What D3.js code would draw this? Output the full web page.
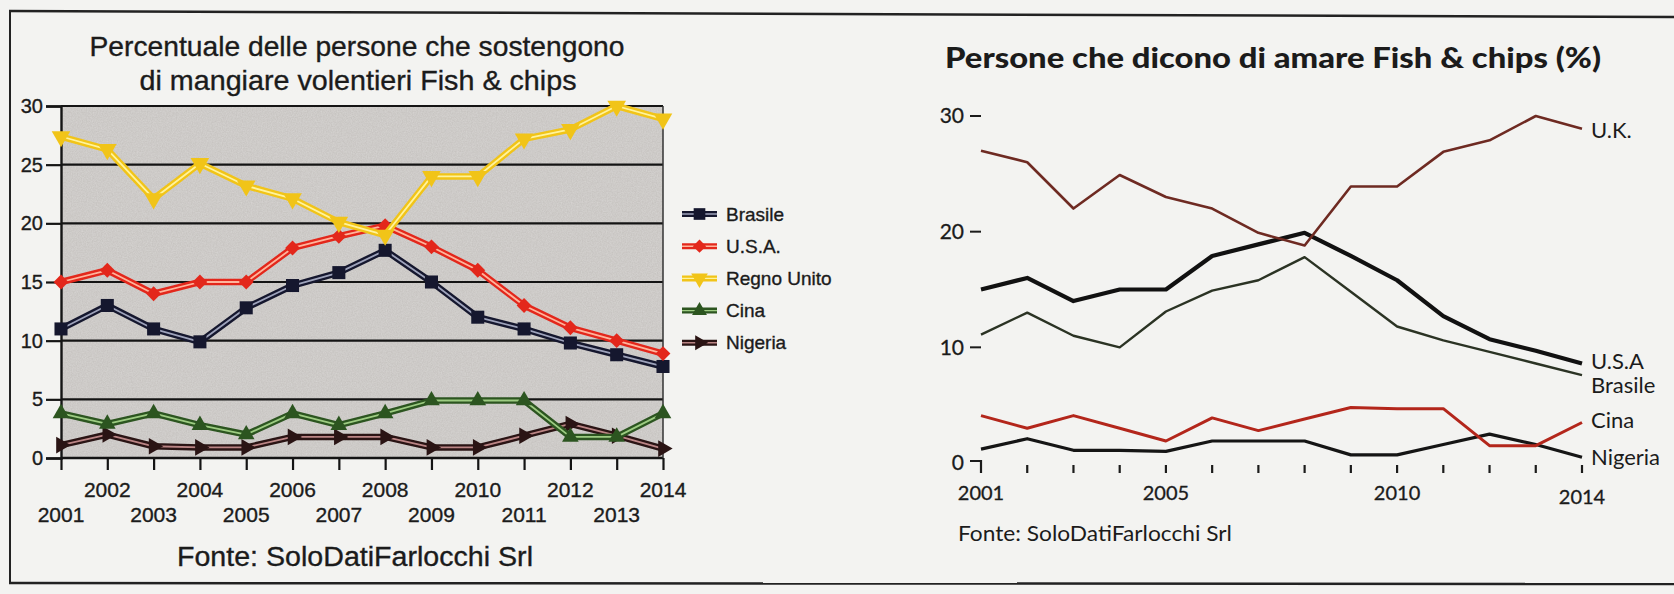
<!DOCTYPE html>
<html>
<head>
<meta charset="utf-8">
<script src="https://cdn.jsdelivr.net/npm/d3@7"></script>
<style>
    html, body { margin: 0; padding: 0; background: #f3f3f1; }
    svg { display: block; }
</style>
</head>
<body>
<svg id="chart" width="1674" height="594"></svg>
<script>
// ---- data ----
const years = [2001, 2002, 2003, 2004, 2005, 2006, 2007, 2008, 2009, 2010, 2011, 2012, 2013, 2014];

// left chart (Excel style)
const leftBrasile = [11.0, 13.0, 11.0, 9.9, 12.8, 14.7, 15.8, 17.7, 15.0, 12.0, 11.0, 9.8, 8.8, 7.8];
const leftUsa = [15.0, 16.0, 14.0, 15.0, 15.0, 17.9, 18.9, 19.8, 18.0, 16.0, 13.0, 11.1, 10.0, 8.9];
const leftRegnoUnito = [27.4, 26.3, 22.1, 25.1, 23.2, 22.1, 20.1, 19.0, 24.0, 24.0, 27.2, 28.0, 30.0, 28.9];
const leftCina = [3.8, 2.9, 3.8, 2.8, 2.0, 3.8, 2.8, 3.8, 4.9, 4.9, 4.9, 1.8, 1.8, 3.8];
const leftNigeria = [1.1, 2.0, 1.0, 0.9, 0.9, 1.8, 1.8, 1.8, 0.9, 0.9, 1.9, 2.9, 1.9, 0.8];
const leftNames = ["Brasile", "U.S.A.", "Regno Unito", "Cina", "Nigeria"];
const leftYTicks = [0, 5, 10, 15, 20, 25, 30];

// right chart (redesign)
const rightUk = [27.0, 26.0, 22.0, 24.9, 23.0, 22.0, 19.9, 18.8, 23.9, 23.9, 26.9, 27.9, 30.0, 28.9];
const rightUsa = [15.0, 16.0, 14.0, 15.0, 15.0, 17.9, 18.9, 19.9, 17.9, 15.8, 12.7, 10.7, 9.7, 8.6];
const rightBrasile = [11.1, 13.0, 11.0, 10.0, 13.1, 14.9, 15.8, 17.8, 14.8, 11.8, 10.6, 9.6, 8.6, 7.6];
const rightCina = [4.1, 3.0, 4.1, 3.0, 1.9, 3.9, 2.8, 3.8, 4.8, 4.7, 4.7, 1.5, 1.5, 3.5];
const rightNigeria = [1.2, 2.1, 1.1, 1.1, 1.0, 1.9, 1.9, 1.9, 0.7, 0.7, 1.6, 2.5, 1.6, 0.5];
const rightNames = ["U.K.", "U.S.A", "Brasile", "Cina", "Nigeria"];
const rightYTicks = [0, 10, 20, 30];
const rightXLabels = [2001, 2005, 2010, 2014];

const svg = d3.select("#chart");
const ink = "#1b1b1b";

// photo frame
svg.append("line").attr("x1", 9).attr("y1", 11).attr("x2", 1674).attr("y2", 17)
    .attr("stroke", "#222").attr("stroke-width", 2.5);
svg.append("line").attr("x1", 9).attr("y1", 583).attr("x2", 1674).attr("y2", 584)
    .attr("stroke", "#222").attr("stroke-width", 2.5);
svg.append("line").attr("x1", 10).attr("y1", 11).attr("x2", 10).attr("y2", 584)
    .attr("stroke", "#222").attr("stroke-width", 2);

// grain filter for the grey plot area
const defs = svg.append("defs");
const grain = defs.append("filter").attr("id", "grain").attr("x", 0).attr("y", 0).attr("width", 1).attr("height", 1);
grain.append("feTurbulence").attr("type", "fractalNoise").attr("baseFrequency", 0.8).attr("numOctaves", 2).attr("result", "n");
grain.append("feColorMatrix").attr("in", "n").attr("type", "matrix")
    .attr("values", "0 0 0 0 0.78  0 0 0 0 0.77  0 0 0 0 0.76  0 0 0 -1.1 0.9").attr("result", "g");
grain.append("feComposite").attr("in", "g").attr("in2", "SourceGraphic").attr("operator", "in");

/////////////
// LEFT    //
/////////////
// light stroke on the text mimics the heavier printed glyphs
const left = svg.append("g").attr("font-family", "'Liberation Sans', Arial, sans-serif")
    .attr("fill", ink).attr("stroke", ink).attr("stroke-width", 0.35);

const xL = d3.scaleLinear().domain([2001, 2014]).range([61, 663]);
const yL = d3.scaleLinear().domain([0, 30]).range([458, 106]);

left.append("text").attr("x", 357).attr("y", 56).attr("text-anchor", "middle")
    .attr("font-size", 28).attr("textLength", 535).attr("lengthAdjust", "spacingAndGlyphs")
    .text("Percentuale delle persone che sostengono");
left.append("text").attr("x", 358).attr("y", 90).attr("text-anchor", "middle")
    .attr("font-size", 28).attr("textLength", 437).attr("lengthAdjust", "spacingAndGlyphs")
    .text("di mangiare volentieri Fish & chips");

// plot background
left.append("rect").attr("x", xL(2001)).attr("y", yL(30)).attr("stroke", "none")
    .attr("width", xL(2014) - xL(2001)).attr("height", yL(0) - yL(30)).attr("fill", "#c7c4c1");
left.append("rect").attr("x", xL(2001)).attr("y", yL(30)).attr("stroke", "none")
    .attr("width", xL(2014) - xL(2001)).attr("height", yL(0) - yL(30)).attr("fill", "#c7c4c1")
    .attr("filter", "url(#grain)").attr("opacity", 0.6);

// gridlines
left.append("g").selectAll("line")
    .data(leftYTicks)
    .join("line")
    .attr("x1", xL(2001)).attr("x2", xL(2014))
    .attr("y1", d => yL(d)).attr("y2", d => yL(d))
    .attr("stroke", "#141414").attr("stroke-width", d => d === 0 ? 2.6 : 2.2);
left.append("line").attr("x1", xL(2014)).attr("x2", xL(2014)).attr("y1", yL(30)).attr("y2", yL(0))
    .attr("stroke", "#333").attr("stroke-width", 1.5);

// y axis
const yAxisL = d3.axisLeft(yL).tickValues(leftYTicks).tickSize(15).tickPadding(3);
const yAxisLG = left.append("g").attr("transform", `translate(${xL(2001)},0)`).call(yAxisL);
yAxisLG.select(".domain").attr("stroke", "#141414").attr("stroke-width", 2.4);
yAxisLG.selectAll(".tick line").attr("stroke", "#141414").attr("stroke-width", 2.2);
yAxisLG.selectAll(".tick text").attr("font-size", 20).attr("fill", ink)
    .attr("stroke", ink).attr("stroke-width", 0.35)
    .attr("font-family", "'Liberation Sans', Arial, sans-serif");

// x axis (staggered labels)
const xAxisL = d3.axisBottom(xL).tickValues(years).tickSize(12).tickFormat("");
const xAxisLG = left.append("g").attr("transform", `translate(0,${yL(0)})`).call(xAxisL);
xAxisLG.select(".domain").remove();
xAxisLG.selectAll(".tick line").attr("stroke", "#141414").attr("stroke-width", 2.2);
left.append("g").selectAll("text")
    .data(years)
    .join("text")
    .attr("x", d => xL(d))
    .attr("y", d => d % 2 === 0 ? 497 : 522)
    .attr("text-anchor", "middle")
    .attr("font-size", 21)
    .text(d => d);

left.append("text").attr("x", 355).attr("y", 566).attr("text-anchor", "middle")
    .attr("font-size", 27).attr("textLength", 356).attr("lengthAdjust", "spacingAndGlyphs")
    .text("Fonte: SoloDatiFarlocchi Srl");

const leftSeries = [
    {name: leftNames[0], values: leftBrasile, outer: "#15172e", inner: "#9ea3bb", mark: d3.symbolSquare, size: 170, rot: 0},
    {name: leftNames[1], values: leftUsa, outer: "#e3271b", inner: "#ffb49c", mark: d3.symbolDiamond2, size: 140, rot: 0},
    {name: leftNames[2], values: leftRegnoUnito, outer: "#f1c418", inner: "#fff39c", mark: d3.symbolTriangle, size: 150, rot: 180},
    {name: leftNames[3], values: leftCina, outer: "#2c5520", inner: "#9dcc82", mark: d3.symbolTriangle, size: 120, rot: 0},
    {name: leftNames[4], values: leftNigeria, outer: "#2a1414", inner: "#bb8585", mark: d3.symbolTriangle, size: 120, rot: 90}
];

const lineL = d3.line().x((d, i) => xL(years[i])).y(d => yL(d));
// draw order: lower series first so Regno Unito / U.S.A. sit on top
const drawOrder = [4, 3, 0, 1, 2];
for (let k of drawOrder) {
    const s = leftSeries[k];
    const g = left.append("g").attr("stroke-width", null);
    g.append("path").attr("d", lineL(s.values)).attr("fill", "none")
        .attr("stroke", s.outer).attr("stroke-width", 6.5).attr("stroke-linejoin", "round");
    g.append("path").attr("d", lineL(s.values)).attr("fill", "none")
        .attr("stroke", s.inner).attr("stroke-width", 1.8).attr("stroke-linejoin", "round");
    g.selectAll("path.mark")
        .data(s.values)
        .join("path")
        .attr("class", "mark")
        .attr("d", d3.symbol().type(s.mark).size(s.size))
        .attr("transform", (d, i) => `translate(${xL(years[i])},${yL(d)}) rotate(${s.rot})`)
        .attr("fill", s.outer).attr("stroke", "none");
}

// legend
const legendL = left.append("g").selectAll("g")
    .data(leftSeries)
    .join("g")
    .attr("transform", (d, i) => `translate(682,${214 + i * 32.2})`);
legendL.append("line").attr("x1", 0).attr("x2", 35).attr("stroke", d => d.outer).attr("stroke-width", 6);
legendL.append("line").attr("x1", 0).attr("x2", 35).attr("stroke", d => d.inner).attr("stroke-width", 1.4);
legendL.append("path")
    .attr("d", d => d3.symbol().type(d.mark).size(d.size * 0.8)())
    .attr("transform", d => `translate(17.5,0) rotate(${d.rot})`)
    .attr("fill", d => d.outer).attr("stroke", "none");
legendL.append("text").attr("x", 44).attr("dy", "0.35em").attr("font-size", 19).text(d => d.name);

/////////////
// RIGHT   //
/////////////
const right = svg.append("g").attr("font-family", "Lato, 'Open Sans', sans-serif").attr("fill", ink);

const xR = d3.scaleLinear().domain([2001, 2014]).range([981, 1582]);
const yR = d3.scaleLinear().domain([0, 30]).range([463, 116]);

right.append("text").attr("x", 945).attr("y", 68).attr("font-size", 29).attr("font-weight", 900)
    .attr("textLength", 656).attr("lengthAdjust", "spacingAndGlyphs")
    .text("Persone che dicono di amare Fish & chips (%)");

// y labels with dashes
const yTickR = right.append("g").selectAll("g")
    .data(rightYTicks)
    .join("g")
    .attr("transform", d => `translate(0,${yR(d)})`);
yTickR.append("text").attr("x", 964).attr("dy", "0.35em").attr("text-anchor", "end")
    .attr("font-size", 21).attr("stroke", ink).attr("stroke-width", 0.3).text(d => d);
yTickR.append("line").attr("x1", 970).attr("x2", d => d === 0 ? xR(2001) : 981)
    .attr("y1", d => d === 0 ? -2 : 0).attr("y2", d => d === 0 ? -2 : 0)
    .attr("stroke", ink).attr("stroke-width", 2);

// x ticks
right.append("g").selectAll("line")
    .data(years)
    .join("line")
    .attr("x1", d => xR(d)).attr("x2", d => xR(d))
    .attr("y1", d => d === 2001 ? yR(0) - 3 : yR(0) + 2)
    .attr("y2", yR(0) + 10)
    .attr("stroke", ink).attr("stroke-width", 2.2);
right.append("g").selectAll("text")
    .data(rightXLabels)
    .join("text")
    .attr("x", d => xR(d))
    .attr("y", d => d === 2014 ? 504 : 500)
    .attr("text-anchor", "middle")
    .attr("font-size", 20)
    .attr("stroke", ink).attr("stroke-width", 0.3)
    .text(d => d);

right.append("text").attr("x", 958).attr("y", 541).attr("font-size", 22)
    .attr("textLength", 274).attr("lengthAdjust", "spacingAndGlyphs")
    .text("Fonte: SoloDatiFarlocchi Srl");

const rightSeries = [
    {name: rightNames[0], values: rightUk, color: "#6e2a22", width: 2.6, dy: 9},
    {name: rightNames[1], values: rightUsa, color: "#111111", width: 4.2, dy: 5},
    {name: rightNames[2], values: rightBrasile, color: "#2b3324", width: 2.4, dy: 18},
    {name: rightNames[3], values: rightCina, color: "#b3261b", width: 3, dy: 5},
    {name: rightNames[4], values: rightNigeria, color: "#151515", width: 3.2, dy: 8}
];

const lineR = d3.line().x((d, i) => xR(years[i])).y(d => yR(d));
right.append("g").selectAll("path")
    .data([rightSeries[4], rightSeries[3], rightSeries[2], rightSeries[1], rightSeries[0]])
    .join("path")
    .attr("d", d => lineR(d.values))
    .attr("fill", "none")
    .attr("stroke", d => d.color)
    .attr("stroke-width", d => d.width)
    .attr("stroke-linejoin", "round");

right.append("g").selectAll("text")
    .data(rightSeries)
    .join("text")
    .attr("x", xR(2014) + 9)
    .attr("y", d => yR(d.values[d.values.length - 1]) + d.dy)
    .attr("font-size", 22)
    .text(d => d.name);
</script>
</body>
</html>
